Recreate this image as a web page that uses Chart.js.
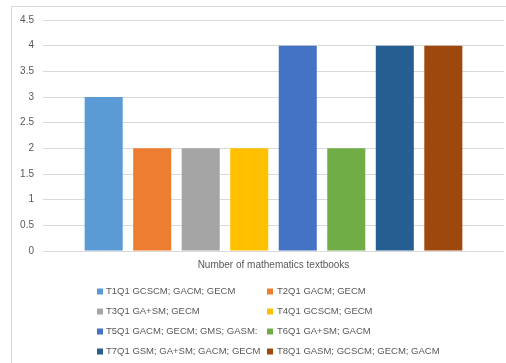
<!DOCTYPE html>
<html>
<head>
<meta charset="utf-8">
<script src="https://cdn.jsdelivr.net/npm/chart.js@4"></script>
<style>
  html, body { margin: 0; padding: 0; background: #fff; }
  #wrap { position: absolute; left: 0; top: 0; width: 506px; height: 363px; }
</style>
</head>
<body>
<div id="wrap"><canvas id="chart"></canvas></div>
<script>
const categories = ['Number of mathematics textbooks'];
const seriesLabels = [
    'T1Q1 GCSCM; GACM; GECM',
    'T2Q1 GACM; GECM',
    'T3Q1 GA+SM; GECM',
    'T4Q1 GCSCM; GECM',
    'T5Q1 GACM; GECM; GMS; GASM:',
    'T6Q1 GA+SM; GACM',
    'T7Q1 GSM; GA+SM; GACM; GECM',
    'T8Q1 GASM; GCSCM; GECM; GACM'
];
const seriesValues = [3, 2, 2, 2, 4, 2, 4, 4];
const seriesColors = ['#5b9bd5', '#ed7d31', '#a5a5a5', '#ffc000', '#4472c4', '#70ad47', '#255e91', '#9e480e'];

const FONT = "'Liberation Sans', Arial, sans-serif";
const TEXT = '#595959';
const GRID = '#d9d9d9';

// outer frame (only top and left edges are in view) plus two-column legend
const framePlugin = {
    id: 'frame',
    beforeDraw(chart) {
        const c = chart.ctx;
        c.save();
        c.strokeStyle = GRID;
        c.lineWidth = 1;
        c.beginPath();
        c.moveTo(11.5, 363);
        c.lineTo(11.5, 6.5);
        c.lineTo(506, 6.5);
        c.stroke();
        c.restore();
    },
    afterDraw(chart) {
        const c = chart.ctx;
        c.save();
        c.font = '9.5px ' + FONT;
        c.textBaseline = 'middle';
        chart.data.datasets.forEach((ds, i) => {
            const col = i % 2;
            const row = Math.floor(i / 2);
            const x = col === 0 ? 97 : 267;
            const y = 291.5 + row * 20;
            c.fillStyle = ds.backgroundColor;
            c.fillRect(x, y - 3, 6, 6);
            c.fillStyle = TEXT;
            c.fillText(ds.label, x + (col === 0 ? 9 : 10), y);
        });
        c.restore();
    }
};

new Chart(document.getElementById('chart'), {
    type: 'bar',
    data: {
        labels: categories,
        datasets: seriesLabels.map((label, i) => ({
            label: label,
            data: [seriesValues[i]],
            backgroundColor: seriesColors[i],
            borderWidth: 0
        }))
    },
    options: {
        responsive: true,
        maintainAspectRatio: false,
        animation: false,
        categoryPercentage: 0.842,
        barPercentage: 0.784,
        layout: { padding: { left: 0, right: 2, top: 20, bottom: 88 } },
        scales: {
            y: {
                min: 0,
                max: 4.5,
                ticks: {
                    stepSize: 0.5, color: TEXT, font: { family: FONT, size: 10 }, padding: 9,
                    callback: (v) => String(v)
                },
                grid: { color: GRID, drawTicks: false },
                border: { display: false },
                afterFit: (s) => { s.width = 43; }
            },
            x: {
                ticks: { color: TEXT, font: { family: FONT, size: 10 }, padding: 8 },
                grid: { display: false, drawTicks: false },
                border: { display: false },
                afterFit: (s) => { s.height = 24; }
            }
        },
        plugins: {
            legend: { display: false },
            tooltip: { enabled: false }
        }
    },
    plugins: [framePlugin]
});
</script>
</body>
</html>
